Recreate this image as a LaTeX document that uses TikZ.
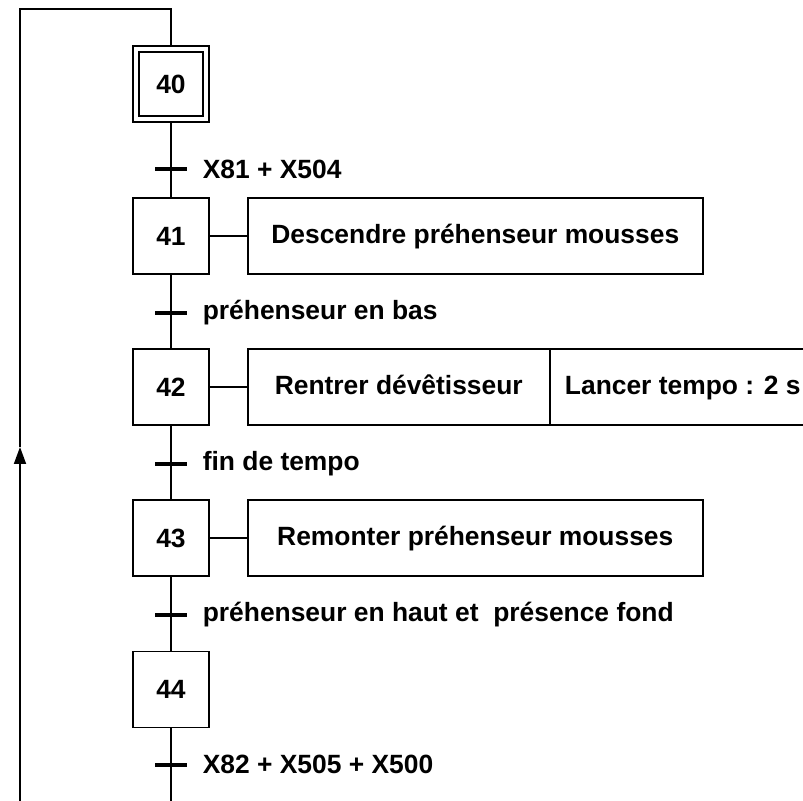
\documentclass[tikz,border=0pt]{standalone}
\usepackage{fontspec}
\setmainfont{Liberation Sans}
\usetikzlibrary{positioning,arrows.meta}

\begin{document}
\begin{tikzpicture}[
        node distance=36.6pt,
        every node/.style={font=\fontsize{13.2}{15}\selectfont\bfseries},
        stepbox/.style={draw, line width=0.9pt, minimum size=38pt, inner sep=0pt, text height=9.5pt, text depth=0pt},
        action/.style={draw, line width=0.9pt, minimum height=38pt, inner sep=0pt, text height=9.5pt, text depth=2.8pt},
        trans/.style={fill=black, minimum width=16pt, minimum height=2pt, inner sep=0pt},
        cond/.style={inner sep=0pt, anchor=west},
        link/.style={line width=0.9pt},
        arrow/.style={-{Triangle[length=8.5pt,width=6pt]}, line width=0.9pt}
    ]
        \clip (0,0) rectangle (401.5pt,-400.5pt);
        % steps
        \node[stepbox] (s40) at (85.5pt,-42pt) {40};
        \draw[line width=0.9pt] ([shift={(3.6pt,-3.6pt)}]s40.north west) rectangle ([shift={(-3.6pt,3.6pt)}]s40.south east);
        \node[stepbox, below=37.3pt of s40] (s41) {41};
        \node[stepbox, below=of s41] (s42) {42};
        \node[stepbox, below=of s42] (s43) {43};
        \node[stepbox, below=of s43] (s44) {44};
        % transitions
        \node[trans, below=22pt of s40] (t1) {};
        \node[trans, below=17.5pt of s41] (t2) {};
        \node[trans, below=17.5pt of s42] (t3) {};
        \node[trans, below=17.5pt of s43] (t4) {};
        \node[trans, below=17pt of s44] (t5) {};
        \node[cond, right=7.5pt of t1] (c1) {X81 + X504};
        \node[cond, right=7.5pt of t2] (c2) {préhenseur en bas};
        \node[cond, right=7.5pt of t3] (c3) {fin de tempo};
        \node[cond, right=7.5pt of t4] (c4) {préhenseur en haut et \ présence fond};
        \node[cond, right=7.5pt of t5] (c5) {X82 + X505 + X500};
        % actions
        \node[action, right=18.5pt of s41, minimum width=227.5pt] (a41) {Descendre préhenseur mousses};
        \node[action, right=18.5pt of s42, minimum width=151pt] (a42) {Rentrer dévêtisseur};
        \node[action, right=-0.9pt of a42, minimum width=133pt] (a42b) {Lancer tempo : 2 s};
        \node[action, right=18.5pt of s43, minimum width=227.5pt] (a43) {Remonter préhenseur mousses};
        % links
        \draw[link] (s40) -- (s41);
        \draw[link] (s41) -- (s42);
        \draw[link] (s42) -- (s43);
        \draw[link] (s43) -- (s44);
        \draw[link] (s41) -- (a41);
        \draw[link] (s42) -- (a42);
        \draw[link] (s43) -- (a43);
        % loop back
        \coordinate (bottom) at (10pt,-400.5pt);
        \coordinate (loopmid) at (10pt,-223.5pt);
        \coordinate (corner) at (10pt,-4.5pt);
        \draw[link] (s44) -- (s44 |- bottom);
        \draw[arrow] (bottom) -- (loopmid);
        \draw[link] (loopmid) -- (corner) -| (s40);
    \end{tikzpicture}
\end{document}
